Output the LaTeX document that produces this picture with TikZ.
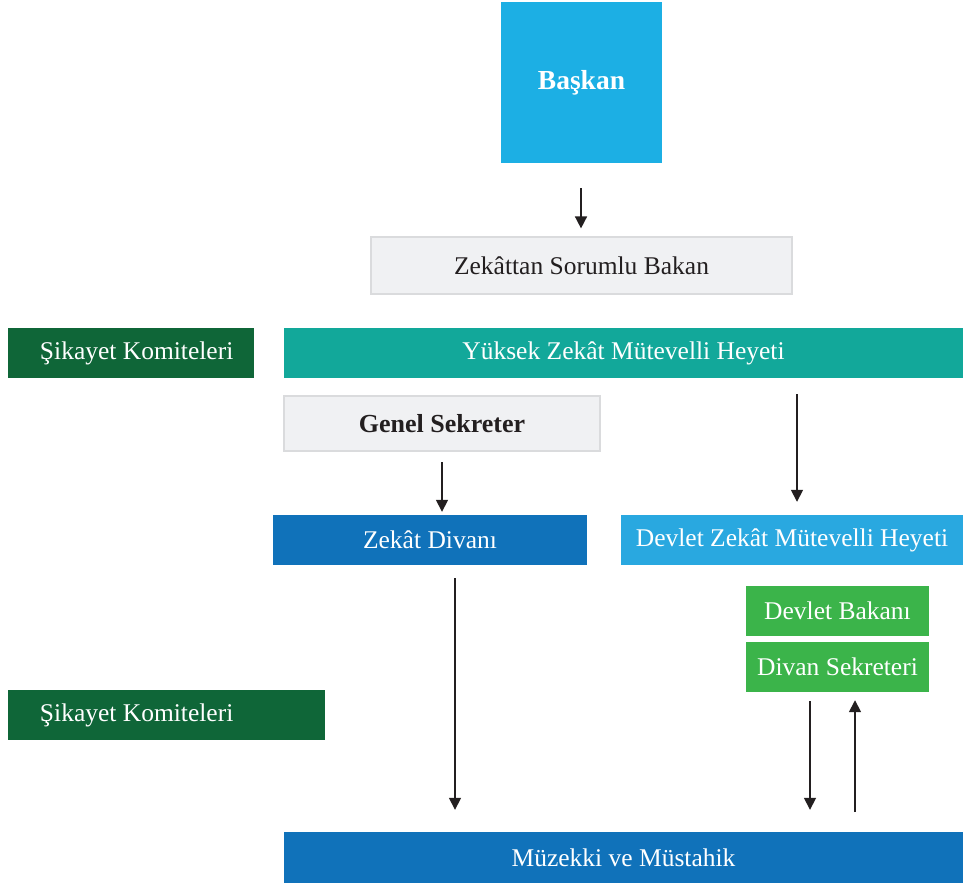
\documentclass[tikz,border=0pt]{standalone}
\usepackage{fontspec}
\setmainfont{Liberation Serif}
\usetikzlibrary{arrows.meta}
\definecolor{cyanbox}{RGB}{28,175,228}
\definecolor{greybox}{RGB}{240,241,243}
\definecolor{greyline}{RGB}{218,219,221}
\definecolor{darkgreen}{RGB}{15,102,56}
\definecolor{teal}{RGB}{18,168,154}
\definecolor{bluebox}{RGB}{16,114,186}
\definecolor{lightblue}{RGB}{41,168,224}
\definecolor{greenbox}{RGB}{59,180,74}
\definecolor{ink}{RGB}{35,31,32}
\tikzset{
  box/.style={inner sep=0pt, text=white, font=\fontsize{25.5}{28}\selectfont},
  greyframe/.style={box, fill=greybox, draw=greyline, line width=1.2pt, text=ink},
  arr/.style={draw=ink, line width=1.6pt, -{Triangle[length=12pt,width=12pt]}},
}
% one picture unit = 1pt, y grows downwards
\newcommand{\bx}[7]{% name, style, left, top, right, bottom, text
  \node[#2, minimum width={#5pt-#3pt}, minimum height={#6pt-#4pt}]
    (#1) at ({(#3+#5)/2*1pt}, {-(#4+#6)/2*1pt}) {#7};}
% left-aligned label with a fixed indent inside a box of the given width
\newcommand{\indented}[2]{\makebox[#1][l]{\hspace*{32pt}#2}}
\begin{document}
\begin{tikzpicture}
\useasboundingbox (0,0) rectangle (963pt,-886pt);
\bx{baskan}{box, fill=cyanbox, font=\fontsize{27.5}{30}\selectfont\bfseries}{501}{2}{662}{163}{\raisebox{-4pt}{Başkan}}
\bx{bakan}{greyframe}{371}{237}{792}{294}{Zekâttan Sorumlu Bakan}
\bx{sikayetA}{box, fill=darkgreen}{8}{328}{254}{378}{\indented{246pt}{Şikayet Komiteleri}}
\bx{yuksek}{box, fill=teal}{284}{328}{963}{378}{Yüksek Zekât Mütevelli Heyeti}
\bx{genel}{greyframe, font=\fontsize{26}{28}\selectfont\bfseries}{284}{396}{600}{451}{Genel Sekreter}
\bx{divan}{box, fill=bluebox}{273}{515}{587}{565}{Zekât Divanı}
\bx{devletzekat}{box, fill=lightblue}{621}{515}{963}{565}{Devlet Zekât Mütevelli Heyeti}
\bx{devletbakan}{box, fill=greenbox}{746}{586}{929}{636}{Devlet Bakanı}
\bx{divansek}{box, fill=greenbox}{746}{642}{929}{692}{Divan Sekreteri}
\bx{sikayetB}{box, fill=darkgreen}{8}{690}{325}{740}{\indented{317pt}{Şikayet Komiteleri}}
\bx{muzekki}{box, fill=bluebox}{284}{832}{963}{883}{Müzekki ve Müstahik}

% connectors
\coordinate (c1) at (581pt,-188pt);
\draw[arr] (c1) -- (c1 |- bakan.north) [shorten >=8pt];
\coordinate (c2) at (442pt,-462pt);
\draw[arr] (c2) -- (c2 |- divan.north) [shorten >=3pt];
\coordinate (c3) at (797pt,-394pt);
\draw[arr] (c3) -- (c3 |- devletzekat.north) [shorten >=13pt];
\coordinate (c4) at (455pt,-578pt);
\draw[arr] (c4) -- (c4 |- muzekki.north) [shorten >=22pt];
\coordinate (c5) at (810pt,-701pt);
\draw[arr] (c5) -- (c5 |- muzekki.north) [shorten >=22pt];
\coordinate (c6) at (855pt,-812pt);
\draw[arr] (c6) -- (c6 |- divansek.south) [shorten >=8pt];
\end{tikzpicture}
\end{document}
